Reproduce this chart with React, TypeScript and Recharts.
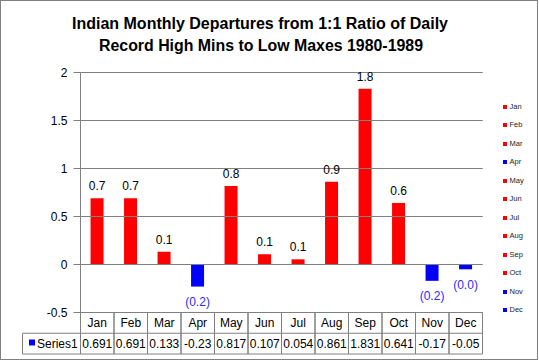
import React from 'react';
import { BarChart, Bar, XAxis, YAxis, Cell, LabelList } from 'recharts';

const months = ['Jan', 'Feb', 'Mar', 'Apr', 'May', 'Jun', 'Jul', 'Aug', 'Sep', 'Oct', 'Nov', 'Dec'];
const values = [0.691, 0.691, 0.133, -0.23, 0.817, 0.107, 0.054, 0.861, 1.831, 0.641, -0.17, -0.05];
const barLabels = ['0.7', '0.7', '0.1', '(0.2)', '0.8', '0.1', '0.1', '0.9', '1.8', '0.6', '(0.2)', '(0.0)'];
const yTicks = [-0.5, 0, 0.5, 1, 1.5, 2];
const yDomain = [-0.5, 2];
const seriesName = 'Series1';
const titleLines = ['Indian Monthly Departures from 1:1 Ratio of Daily', 'Record High Mins to Low Maxes 1980-1989'];

const data = months.map((m, i) => ({ month: m, value: values[i] }));

const FONT = '"Liberation Sans", Arial, sans-serif';
const GRAY = '#808080';
const RED = '#FF0000';
const BLUE = '#0000FF';
const NEG_LABEL = '#2B2BFF';

const colorOf = (v: number) => (v < 0 ? BLUE : RED);

const PLOT_LEFT = 80.5;
const PLOT_RIGHT = 482.5;
const PLOT_TOP = 72.5;
const PLOT_H = 240;
const CELL_W = (PLOT_RIGHT - PLOT_LEFT) / 12;
const ROW_H = 20.75;

const gridY = (t: number) => PLOT_TOP + (PLOT_H * (yDomain[1] - t)) / (yDomain[1] - yDomain[0]);

const TableTick = (props: any) => {
  const { x, y, payload, index } = props;
  const left = x - CELL_W / 2;
  const right = x + CELL_W / 2;
  const i = index as number;
  return (
    <g>
      <line x1={left} y1={y} x2={left} y2={y + 2 * ROW_H} stroke={GRAY} />
      <line x1={right} y1={y} x2={right} y2={y + 2 * ROW_H} stroke={GRAY} />
      <line x1={left} y1={y + ROW_H} x2={right} y2={y + ROW_H} stroke={GRAY} />
      <line x1={left} y1={y + 2 * ROW_H} x2={right} y2={y + 2 * ROW_H} stroke={GRAY} />
      <text x={x} y={y + 14.5} textAnchor="middle" fontFamily={FONT} fontSize={12} fill="#000">
        {payload.value}
      </text>
      <text x={x} y={y + 35} textAnchor="middle" fontFamily={FONT} fontSize={12} fill="#000">
        {String(values[i])}
      </text>
      {i === 0 && (
        <g>
          <line x1={22.5} y1={y + ROW_H} x2={left} y2={y + ROW_H} stroke={GRAY} />
          <line x1={22.5} y1={y + 2 * ROW_H} x2={left} y2={y + 2 * ROW_H} stroke={GRAY} />
          <line x1={22.5} y1={y + ROW_H} x2={22.5} y2={y + 2 * ROW_H} stroke={GRAY} />
          <rect x={29} y={y + 27} width={6} height={6} fill={BLUE} />
          <text x={37} y={y + 35} fontFamily={FONT} fontSize={12} fill="#000">
            {seriesName}
          </text>
        </g>
      )}
    </g>
  );
};

const YTick = (props: any) => {
  const { x, y, payload } = props;
  return (
    <g>
      <line x1={PLOT_LEFT} y1={y} x2={PLOT_RIGHT} y2={y} stroke={GRAY} strokeWidth={1} />
      <text x={x} y={y + 4.2} textAnchor="end" fontFamily={FONT} fontSize={12} fill="#000">
        {String(payload.value)}
      </text>
    </g>
  );
};

const BarValueLabel = (props: any) => {
  const { x, y, width, height, index } = props;
  const v = values[index];
  const top = Math.min(y, y + height);
  const bottom = Math.max(y, y + height);
  const cx = x + width / 2;
  if (v >= 0) {
    return (
      <text x={cx} y={top - 8} textAnchor="middle" fontFamily={FONT} fontSize={12} fill="#000">
        {barLabels[index]}
      </text>
    );
  }
  return (
    <text x={cx} y={bottom + 19.5} textAnchor="middle" fontFamily={FONT} fontSize={12} fill={NEG_LABEL}>
      {barLabels[index]}
    </text>
  );
};

export default function App() {
  return (
    <div style={{ position: 'absolute', left: 0, top: 0, width: 539, height: 361, background: '#fff' }}>
      <svg width={539} height={361} style={{ position: 'absolute', left: 0, top: 0 }}>
        {yTicks.map((t) => (
          <line key={t} x1={PLOT_LEFT} x2={PLOT_RIGHT} y1={gridY(t)} y2={gridY(t)} stroke={GRAY} strokeWidth={1} />
        ))}
      </svg>
      <div style={{ position: 'absolute', left: 0, top: 0 }}>
        <BarChart
          width={539}
          height={361}
          data={data}
          margin={{ top: PLOT_TOP, right: 539 - PLOT_RIGHT, bottom: 7, left: PLOT_LEFT - 60 }}
          barCategoryGap="30%"
        >
          <YAxis
            width={60}
            domain={yDomain}
            ticks={yTicks}
            interval={0}
            axisLine={{ stroke: GRAY }}
            tickLine={{ stroke: GRAY }}
            tickSize={7}
            tickMargin={6}
            tick={<YTick />}
          />
          <XAxis
            dataKey="month"
            height={41.5}
            axisLine={{ stroke: GRAY }}
            tickLine={false}
            tickSize={0}
            tickMargin={0}
            interval={0}
            tick={<TableTick />}
          />
          <Bar dataKey="value" isAnimationActive={false} name={seriesName}>
            {data.map((d) => (
              <Cell key={d.month} fill={colorOf(d.value)} />
            ))}
            <LabelList dataKey="value" content={<BarValueLabel />} />
          </Bar>
        </BarChart>
      </div>
      <div style={{ position: 'absolute', left: 503, top: 97.4, width: 36 }}>
        {months.map((m, i) => (
          <div key={m} style={{ height: 18.5, display: 'flex', alignItems: 'center' }}>
            <div style={{ width: 4, height: 4, background: colorOf(values[i]) }} />
            <span style={{ marginLeft: 2.5, fontFamily: FONT, fontSize: 7.5, color: '#222', lineHeight: '8px' }}>{m}</span>
          </div>
        ))}
      </div>
      <svg width={539} height={361} style={{ position: 'absolute', left: 0, top: 0, pointerEvents: 'none' }}>
        <rect x={0.5} y={0.5} width={537} height={359} fill="none" stroke={GRAY} />
        <text x={260} y={29} textAnchor="middle" fontFamily={FONT} fontWeight="bold" fontSize={16} fill="#000" textLength={376} lengthAdjust="spacingAndGlyphs">
          {titleLines[0]}
        </text>
        <text x={261} y={51} textAnchor="middle" fontFamily={FONT} fontWeight="bold" fontSize={16} fill="#000" textLength={324} lengthAdjust="spacingAndGlyphs">
          {titleLines[1]}
        </text>
      </svg>
    </div>
  );
}
